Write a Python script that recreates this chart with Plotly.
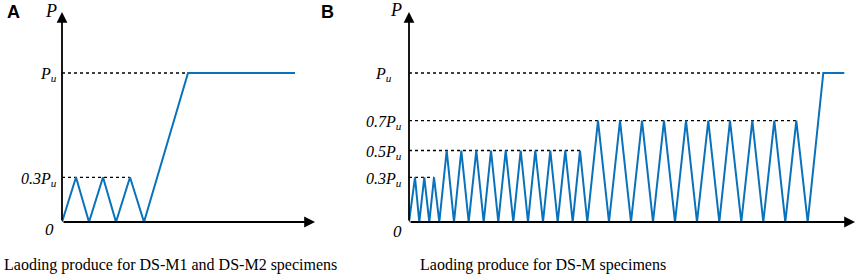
import plotly.graph_objects as go

W, H = 858, 277

# ---------------- data (loading protocols) ----------------
# Panel A: loading step (time) vs load fraction of Pu
a_time = [0, 14, 27, 41, 54, 68, 82, 126, 233]
a_load = [0, 0.3, 0, 0.3, 0, 0.3, 0, 1.0, 1.0]
a_levels = [0.3, 1.0]
a_level_ends = [68, 126]
a_level_labels = ["0.3P", "P"]

# Panel B
b_time = [0, 6, 10.3, 15.3, 20.3, 25, 30.3,
          37.7, 45, 52.3, 59.7, 67.3, 74.7, 82, 89.3, 96.7, 104.3,
          111.7, 119, 126.3, 134, 141.3, 148.7, 156.3, 163.7, 171, 178.3,
          189, 200, 211, 222, 233, 244, 255, 266, 277, 288,
          299.3, 310.3, 321, 332.3, 343.3, 354.3, 365.3, 376.3, 387.3, 398.7,
          414.3, 435.3]
b_load = [0, 0.3, 0, 0.3, 0, 0.3, 0,
          0.48, 0, 0.48, 0, 0.48, 0, 0.48, 0, 0.48, 0,
          0.48, 0, 0.48, 0, 0.48, 0, 0.48, 0, 0.48, 0,
          0.68, 0, 0.68, 0, 0.68, 0, 0.68, 0, 0.68, 0,
          0.68, 0, 0.68, 0, 0.68, 0, 0.68, 0, 0.68, 0,
          1.0, 1.0]
b_levels = [0.3, 0.48, 0.68, 1.0]
b_level_ends = [25, 171, 387.3, 414.3]
b_level_labels = ["0.3P", "0.5P", "0.7P", "P"]

captions = ["Laoding produce for DS-M1 and DS-M2 specimens",
            "Laoding produce for DS-M specimens"]

# ---------------- layout geometry ----------------
A_X0, A_X1 = 62, 315
B_X0, B_X1 = 409, 855
Y_BOT, Y_TOP = 222, 12
PU_PIX = 149
XMAX_A = A_X1 - A_X0
XMAX_B = B_X1 - B_X0
YMAX = (Y_BOT - Y_TOP) / PU_PIX


def px(x):
    return x / W


def py(y):
    return 1 - y / H


BLUE = "#0a72ba"
SERIF = "Liberation Serif"

fig = go.Figure()

# dotted reference lines
for lev, end in zip(a_levels, a_level_ends):
    fig.add_trace(go.Scatter(x=[0, end], y=[lev, lev], mode="lines",
                             line=dict(color="black", width=1.3, dash="dot"),
                             xaxis="x", yaxis="y", hoverinfo="skip"))
for lev, end in zip(b_levels, b_level_ends):
    fig.add_trace(go.Scatter(x=[0, end], y=[lev, lev], mode="lines",
                             line=dict(color="black", width=1.3, dash="dot"),
                             xaxis="x2", yaxis="y2", hoverinfo="skip"))

fig.add_trace(go.Scatter(x=a_time, y=a_load, mode="lines",
                         line=dict(color=BLUE, width=2),
                         xaxis="x", yaxis="y", hoverinfo="skip"))
fig.add_trace(go.Scatter(x=b_time, y=b_load, mode="lines",
                         line=dict(color=BLUE, width=2),
                         xaxis="x2", yaxis="y2", hoverinfo="skip"))

ann = []
# axes with arrows
for xr, yr, xmax in (("x", "y", XMAX_A), ("x2", "y2", XMAX_B)):
    ann.append(dict(x=xmax, y=0, ax=0, ay=0, xref=xr, yref=yr, axref=xr, ayref=yr,
                    text="", showarrow=True, arrowhead=2, arrowsize=1.2,
                    arrowwidth=1.8, arrowcolor="black", standoff=0))
    ann.append(dict(x=0, y=YMAX, ax=0, ay=0, xref=xr, yref=yr, axref=xr, ayref=yr,
                    text="", showarrow=True, arrowhead=2, arrowsize=1.2,
                    arrowwidth=1.8, arrowcolor="black", standoff=0))

# level labels
for lev, lab in zip(a_levels, a_level_labels):
    ann.append(dict(x=px(59), y=lev, xref="paper", yref="y", xanchor="right",
                    yanchor="middle", yshift=-2, showarrow=False,
                    text=f"<i>{lab}<sub>u</sub></i>",
                    font=dict(family=SERIF, size=16, color="black")))
b_label_right = [404, 404, 404, 394]
for lev, lab, xr in zip(b_levels, b_level_labels, b_label_right):
    ann.append(dict(x=px(xr), y=lev, xref="paper", yref="y2", xanchor="right",
                    yanchor="middle", yshift=-2, showarrow=False,
                    text=f"<i>{lab}<sub>u</sub></i>",
                    font=dict(family=SERIF, size=16, color="black")))

# P and 0 labels, panel letters
for (cx, cy, txt) in ((51, 11, "<i>P</i>"), (396, 10, "<i>P</i>")):
    ann.append(dict(x=px(cx), y=py(cy), xref="paper", yref="paper", xanchor="center",
                    yanchor="middle", showarrow=False, text=txt,
                    font=dict(family=SERIF, size=18, color="black")))
for (cx, cy) in ((49.5, 229.5), (397.5, 231)):
    ann.append(dict(x=px(cx), y=py(cy), xref="paper", yref="paper", xanchor="center",
                    yanchor="middle", showarrow=False, text="<i>0</i>",
                    font=dict(family=SERIF, size=17, color="black")))
for (cx, cy, txt) in ((13, 12, "A"), (327, 12, "B")):
    ann.append(dict(x=px(cx), y=py(cy), xref="paper", yref="paper", xanchor="center",
                    yanchor="middle", showarrow=False, text=f"<b>{txt}</b>",
                    font=dict(family="Liberation Sans", size=18, color="black")))

# captions
for (cx, cy), txt in zip(((170, 265), (543, 265)), captions):
    ann.append(dict(x=px(cx), y=py(cy), xref="paper", yref="paper", xanchor="center",
                    yanchor="middle", showarrow=False, text=txt,
                    font=dict(family=SERIF, size=16, color="black")))

axis_common = dict(visible=False, fixedrange=True)
fig.update_layout(
    width=W, height=H,
    margin=dict(l=0, r=0, t=0, b=0),
    paper_bgcolor="white", plot_bgcolor="rgba(0,0,0,0)",
    showlegend=False,
    xaxis=dict(domain=[px(A_X0), px(A_X1)], range=[0, XMAX_A], anchor="y", **axis_common),
    yaxis=dict(domain=[py(Y_BOT), py(Y_TOP)], range=[0, YMAX], anchor="x", **axis_common),
    xaxis2=dict(domain=[px(B_X0), px(B_X1)], range=[0, XMAX_B], anchor="y2", **axis_common),
    yaxis2=dict(domain=[py(Y_BOT), py(Y_TOP)], range=[0, YMAX], anchor="x2", **axis_common),
    annotations=ann,
)

fig.write_html(
    "out.html",
    config={"displayModeBar": False},
    post_script="document.body.style.margin='0';document.body.style.overflow='hidden';",
)
